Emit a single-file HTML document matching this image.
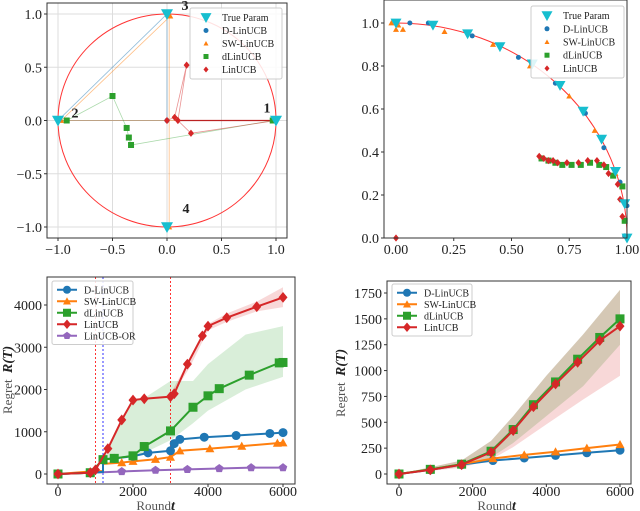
<!DOCTYPE html>
<html><head><meta charset="utf-8">
<style>
body{margin:0;background:#fff;}
svg{display:block;font-family:"Liberation Serif",serif;}
</style></head><body>
<svg id="s" width="640" height="511"></svg>
<script>
const NS="http://www.w3.org/2000/svg";
const S=document.getElementById('s');
function el(t,a,p){const e=document.createElementNS(NS,t);for(const k in a)e.setAttribute(k,a[k]);(p||S).appendChild(e);return e;}
function txt(x,y,s,a,p){const e=el('text',Object.assign({x:x,y:y,'font-size':13,fill:'#222'},a||{}),p);e.textContent=s;return e;}
const C={D:'#1f77b4',SW:'#ff7f0e',dL:'#2ca02c',L:'#d62728',OR:'#9467bd',T:'#17becf'};

// ===== Panel 1 data =====
const p1TrueX=[1,-1,0,0], p1TrueY=[0,0,1,-1], p1Labels=['1','2','3','4'];
const p1DX=[0,-1,0,0], p1DY=[0,0,1,0.0];
const p1SWX=[0.97,-0.97,0.03,0.02,0.02], p1SWY=[0,0,0.98,0.98,-1];
const p1dLX=[-0.92,-0.5,-0.37,-0.35,-0.33,0.97], p1dLY=[0,0.23,-0.07,-0.16,-0.23,0];
const p1LX=[0,0.07,0.18,0.1,0.22,1], p1LY=[0,0.03,0.52,0,-0.12,0];
// ===== Panel 2 data =====
const p2TrueX=[0,0.16,0.31,0.45,0.59,0.71,0.81,0.89,0.95,0.99,1], p2TrueY=[1,0.99,0.95,0.89,0.81,0.71,0.59,0.46,0.31,0.16,0];
const p2DX=[0,0.06,0.14,0.33,0.53,0.69,0.82,0.9,0.97,1,0.99], p2DY=[1,1,1,0.94,0.84,0.72,0.58,0.42,0.26,0.15,0.01];
const p2SWX=[-0.02,0,0.01,0.03,0.21,0.42,0.58,0.75,0.86,0.95,0.98], p2SWY=[1,0.97,0.99,0.97,0.96,0.9,0.8,0.66,0.5,0.3,0.24];
const p2dLX=[0.63,0.66,0.69,0.72,0.76,0.8,0.84,0.88,0.91,0.94,0.98,0.99], p2dLY=[0.37,0.36,0.35,0.34,0.34,0.34,0.35,0.34,0.33,0.29,0.24,0.08];
const p2LX=[0,0.62,0.64,0.66,0.68,0.7,0.74,0.79,0.83,0.87,0.9,0.92,0.96,0.97,0.98], p2LY=[0,0.38,0.37,0.36,0.36,0.35,0.35,0.35,0.36,0.36,0.34,0.3,0.25,0.18,0.1];
// ===== Panel 3 data =====
const p3DX=[0,860,1200,1200,1500,2000,2400,3000,3100,3250,3900,4750,5650,6000], p3DY=[0,30,50,350,370,420,500,550,720,820,870,910,960,980];
const p3SWX=[0,860,1200,1200,1700,2000,2600,3000,3250,4050,4900,5850,6000], p3SWY=[0,60,70,240,270,300,350,400,550,600,660,730,740];
const p3dLX=[0,860,1200,1500,2000,2300,3000,3600,4000,4300,5100,5900,6000], p3dLY=[0,30,340,370,430,650,1020,1580,1850,2020,2340,2630,2640];
const p3LX=[0,860,1000,1330,1700,2000,2300,3000,3100,3450,3850,4000,4500,5300,6000], p3LY=[0,30,100,600,1280,1750,1780,1830,1900,2600,3270,3500,3700,3960,4180];
const p3ORX=[0,860,1700,2600,3450,4300,5150,6000], p3ORY=[0,30,60,90,110,130,150,150];
const p3gBandX=[1200,2000,2300,3000,3600,4000,5000,6000], p3gHi=[400,1750,1800,2200,2200,2600,3300,3500], p3gLo=[340,400,500,800,1200,1500,2000,2300];
const p3rBandX=[3000,3500,4000,4500,5300,6000], p3rHi=[1900,2700,3550,3800,4080,4420], p3rLo=[1800,2500,3400,3600,3850,3950];
const p3VRed=[1000,3000], p3VBlue=[1200];
// ===== Panel 4 data =====
const p4X=[0,850,1700,2550,3400,4250,5100,6000];
const p4D=[0,40,90,130,155,180,205,230], p4SW=[0,45,95,150,185,215,250,285];
const p4LX=[0,850,1700,2500,3100,3650,4250,4850,5450,6000];
const p4dL=[0,45,95,220,430,670,890,1110,1320,1500], p4L=[0,40,90,210,420,650,870,1080,1290,1430];
const p4bandX=[0,1700,2500,3100,4000,5000,6000], p4gHi=[0,130,320,560,950,1350,1780], p4gLo=[0,70,160,300,560,850,1250], p4rLo=[0,60,140,260,480,720,950];

function marker(type,x,y,c,r,g){
  let e;
  if(type==='o') e=el('circle',{cx:x,cy:y,r:r,fill:c},g);
  else if(type==='^') e=el('polygon',{points:`${x},${y-r} ${x-r},${y+r*0.8} ${x+r},${y+r*0.8}`,fill:c},g);
  else if(type==='v') e=el('polygon',{points:`${x-r},${y-r*0.8} ${x+r},${y-r*0.8} ${x},${y+r}`,fill:c},g);
  else if(type==='s') e=el('rect',{x:x-r,y:y-r,width:2*r,height:2*r,fill:c},g);
  else if(type==='D') e=el('polygon',{points:`${x},${y-r*1.2} ${x+r},${y} ${x},${y+r*1.2} ${x-r},${y}`,fill:c},g);
  else if(type==='p') e=el('polygon',{points:`${x},${y-r} ${x+r*0.95},${y-r*0.3} ${x+r*0.6},${y+r*0.8} ${x-r*0.6},${y+r*0.8} ${x-r*0.95},${y-r*0.3}`,fill:c},g);
  return e;
}
function poly(xs,ys,fx,fy,a,g){return el('polyline',Object.assign({points:xs.map((v,i)=>fx(v)+','+fy(ys[i])).join(' '),fill:'none'},a),g);}
function band(xs,hi,lo,fx,fy,c,op,g){
  const pts=xs.map((v,i)=>fx(v)+','+fy(hi[i])).concat(xs.map((v,i)=>fx(v)+','+fy(lo[i])).reverse());
  return el('polygon',{points:pts.join(' '),fill:c,'fill-opacity':op},g);
}
function legend(g,x,y,w,items,lineStyle,fs,rh){
  const h=items.length*rh+6;
  el('rect',{x:x,y:y,width:w,height:h,fill:'#fff','fill-opacity':0.85,stroke:'#ccc',rx:2},g);
  items.forEach((it,i)=>{
    const yy=y+3+rh/2+i*rh;
    const ent=el('g',{},g);
    
    
    if(lineStyle){el('line',{x1:x+5,y1:yy,x2:x+25,y2:yy,stroke:it[1],'stroke-width':2},ent);marker(it[2],x+15,yy,it[1],4,ent);}
    else marker(it[2],x+16,yy,it[1],it[2]==='v'?5.5:2.5,ent);
    txt(x+32,yy+3.5,it[0],{'font-size':fs||11},ent);
  });
}

// ===== Panel 1 =====
(function(){
  const g=el('g',{});
  const fx=v=>58+(v+1)*109, fy=v=>120.5-v*106.5;
  [-1,-0.5,0,0.5,1].forEach(t=>{
    el('line',{x1:fx(t),y1:3,x2:fx(t),y2:238,stroke:'#ddd'},g);
    el('line',{x1:47,y1:fy(t),x2:287,y2:fy(t),stroke:'#ddd'},g);
    txt(fx(t),254,t.toFixed(1).replace('-','−'),{'text-anchor':'middle','font-size':14},g);
    txt(42,fy(t)+5,t.toFixed(1).replace('-','−'),{'text-anchor':'end','font-size':14},g);
    el('line',{x1:fx(t),y1:238,x2:fx(t),y2:241,stroke:'#333'},g);
    el('line',{x1:44,y1:fy(t),x2:47,y2:fy(t),stroke:'#333'},g);
  });
  el('ellipse',{cx:fx(0),cy:fy(0),rx:109,ry:106.5,fill:'none',stroke:'#f33','stroke-width':1},g);
  poly(p1DX,p1DY,fx,fy,{stroke:C.D,'stroke-width':0.8,'stroke-opacity':0.5},g);
  poly(p1SWX,p1SWY,fx,fy,{stroke:C.SW,'stroke-width':0.8,'stroke-opacity':0.5},g);
  poly(p1dLX,p1dLY,fx,fy,{stroke:C.dL,'stroke-width':0.8,'stroke-opacity':0.4},g);
  poly(p1LX,p1LY,fx,fy,{stroke:C.L,'stroke-width':0.8,'stroke-opacity':0.5},g);
  el('line',{x1:fx(0.1),y1:fy(0),x2:fx(1),y2:fy(0),stroke:'#b22','stroke-width':1.2},g);
  p1DX.forEach((v,i)=>marker('o',fx(v),fy(p1DY[i]),C.D,2.5,g));
  p1SWX.forEach((v,i)=>marker('^',fx(v),fy(p1SWY[i]),C.SW,3,g));
  p1dLX.forEach((v,i)=>marker('s',fx(v),fy(p1dLY[i]),C.dL,3,g));
  p1LX.forEach((v,i)=>marker('D',fx(v),fy(p1LY[i]),C.L,3,g));
  p1TrueX.forEach((v,i)=>marker('v',fx(v),fy(p1TrueY[i]),C.T,6,g));
  const lo=[[-9,-8],[17,-3],[18,-4],[19,-14]];
  p1TrueX.forEach((v,i)=>txt(fx(v)+lo[i][0],fy(p1TrueY[i])+lo[i][1],p1Labels[i],{'font-size':14,'font-weight':'bold','text-anchor':'middle'},g));
  el('rect',{x:47,y:3,width:240,height:235,fill:'none',stroke:'#333'},g);
  legend(g,190,8,92,[['True Param',C.T,'v'],['D-LinUCB',C.D,'o'],['SW-LinUCB',C.SW,'^'],['dLinUCB',C.dL,'s'],['LinUCB',C.L,'D']],false,10,13);
})();

// ===== Panel 2 =====
(function(){
  const g=el('g',{});
  const fx=v=>396+v*231, fy=v=>238-v*215;
  [0,0.25,0.5,0.75,1].forEach(t=>{txt(fx(t),254,t.toFixed(2),{'text-anchor':'middle','font-size':14},g);el('line',{x1:fx(t),y1:238,x2:fx(t),y2:241,stroke:'#333'},g);});
  [0,0.2,0.4,0.6,0.8,1].forEach(t=>{txt(379,fy(t)+5,t.toFixed(1),{'text-anchor':'end','font-size':14},g);el('line',{x1:381,y1:fy(t),x2:384,y2:fy(t),stroke:'#333'},g);});
  el('path',{d:`M${fx(0)},${fy(1)} A231,215 0 0 1 ${fx(1)},${fy(0)}`,fill:'none',stroke:'#f33'},g);
  p2DX.forEach((v,i)=>marker('o',fx(v),fy(p2DY[i]),C.D,2.5,g));
  p2SWX.forEach((v,i)=>marker('^',fx(v),fy(p2SWY[i]),C.SW,3,g));
  p2dLX.forEach((v,i)=>marker('s',fx(v),fy(p2dLY[i]),C.dL,3,g));
  p2LX.forEach((v,i)=>marker('D',fx(v),fy(p2LY[i]),C.L,3,g));
  p2TrueX.forEach((v,i)=>marker('v',fx(v),fy(p2TrueY[i]),C.T,5.5,g));
  el('rect',{x:384,y:0,width:243,height:238,fill:'none',stroke:'#333'},g);
  legend(g,531,6,93,[['True Param',C.T,'v'],['D-LinUCB',C.D,'o'],['SW-LinUCB',C.SW,'^'],['dLinUCB',C.dL,'s'],['LinUCB',C.L,'D']],false,10,13.2);
})();

// ===== Panel 3 =====
(function(){
  const g=el('g',{});
  const fx=v=>58+v*225/6000, fy=v=>474-v*169/4000;
  [0,2000,4000,6000].forEach(t=>{txt(fx(t),496,String(t),{'text-anchor':'middle','font-size':14},g);el('line',{x1:fx(t),y1:484,x2:fx(t),y2:487,stroke:'#333'},g);});
  [0,1000,2000,3000,4000].forEach(t=>{txt(42,fy(t)+5,String(t),{'text-anchor':'end','font-size':14},g);el('line',{x1:44,y1:fy(t),x2:47,y2:fy(t),stroke:'#333'},g);});
  txt(171,510,'Round ',{'text-anchor':'end','font-size':13,fill:'#555'},g);
  txt(171,510,'t',{'font-size':14,'font-style':'italic','font-weight':'bold'},g);
  txt(0,0,'Regret',{'font-size':13,fill:'#555',transform:'translate(12,414) rotate(-90)'},g);
  txt(0,0,'R(T)',{'font-size':14,'font-style':'italic','font-weight':'bold',transform:'translate(12,373) rotate(-90)'},g);
  band(p3gBandX,p3gHi,p3gLo,fx,fy,C.dL,0.18,g);
  band(p3rBandX,p3rHi,p3rLo,fx,fy,C.L,0.18,g);
  p3VRed.forEach(v=>el('line',{x1:fx(v),y1:277,x2:fx(v),y2:484,stroke:'red','stroke-dasharray':'2,2','stroke-width':0.8},g));
  p3VBlue.forEach(v=>el('line',{x1:fx(v),y1:277,x2:fx(v),y2:484,stroke:'blue','stroke-dasharray':'2,2','stroke-width':0.8},g));
  const ser=[[p3ORX,p3ORY,C.OR,'p'],[p3SWX,p3SWY,C.SW,'^'],[p3DX,p3DY,C.D,'o'],[p3dLX,p3dLY,C.dL,'s'],[p3LX,p3LY,C.L,'D']];
  ser.forEach(s=>{poly(s[0],s[1],fx,fy,{stroke:s[2],'stroke-width':2},g);s[0].forEach((v,i)=>{if(i>0&&v===s[0][i-1])return;if(s[0][i+1]===v)return;marker(s[3],fx(v),fy(s[1][i]),s[2],4.5,g);});});
  el('rect',{x:47,y:277,width:248,height:207,fill:'none',stroke:'#333'},g);
  legend(g,52,281,81,[['D-LinUCB',C.D,'o'],['SW-LinUCB',C.SW,'^'],['dLinUCB',C.dL,'s'],['LinUCB',C.L,'D'],['LinUCB-OR',C.OR,'p']],true,10,11.5);
})();

// ===== Panel 4 =====
(function(){
  const g=el('g',{});
  const fx=v=>399+v*221/6000, fy=v=>474-v*181/1750;
  [0,2000,4000,6000].forEach(t=>{txt(fx(t),496,String(t),{'text-anchor':'middle','font-size':14},g);el('line',{x1:fx(t),y1:484,x2:fx(t),y2:487,stroke:'#333'},g);});
  [0,250,500,750,1000,1250,1500,1750].forEach(t=>{txt(382,fy(t)+5,String(t),{'text-anchor':'end','font-size':14},g);el('line',{x1:384,y1:fy(t),x2:387,y2:fy(t),stroke:'#333'},g);});
  txt(512,510,'Round ',{'text-anchor':'end','font-size':13,fill:'#555'},g);
  txt(512,510,'t',{'font-size':14,'font-style':'italic','font-weight':'bold'},g);
  txt(0,0,'Regret',{'font-size':13,fill:'#555',transform:'translate(345,417) rotate(-90)'},g);
  txt(0,0,'R(T)',{'font-size':14,'font-style':'italic','font-weight':'bold',transform:'translate(345,376) rotate(-90)'},g);
  band(p4bandX,p4gHi,p4gLo,fx,fy,C.dL,0.2,g);
  band(p4bandX,p4gHi,p4rLo,fx,fy,C.L,0.18,g);
  const ser=[[p4X,p4D,C.D,'o'],[p4X,p4SW,C.SW,'^'],[p4LX,p4dL,C.dL,'s'],[p4LX,p4L,C.L,'D']];
  ser.forEach(s=>{poly(s[0],s[1],fx,fy,{stroke:s[2],'stroke-width':2},g);s[0].forEach((v,i)=>marker(s[3],fx(v),fy(s[1][i]),s[2],4.5,g));});
  el('rect',{x:387,y:281,width:244,height:203,fill:'none',stroke:'#333'},g);
  legend(g,392,284,80,[['D-LinUCB',C.D,'o'],['SW-LinUCB',C.SW,'^'],['dLinUCB',C.dL,'s'],['LinUCB',C.L,'D']],true,10,11.5);
})();
</script>
</body></html>
